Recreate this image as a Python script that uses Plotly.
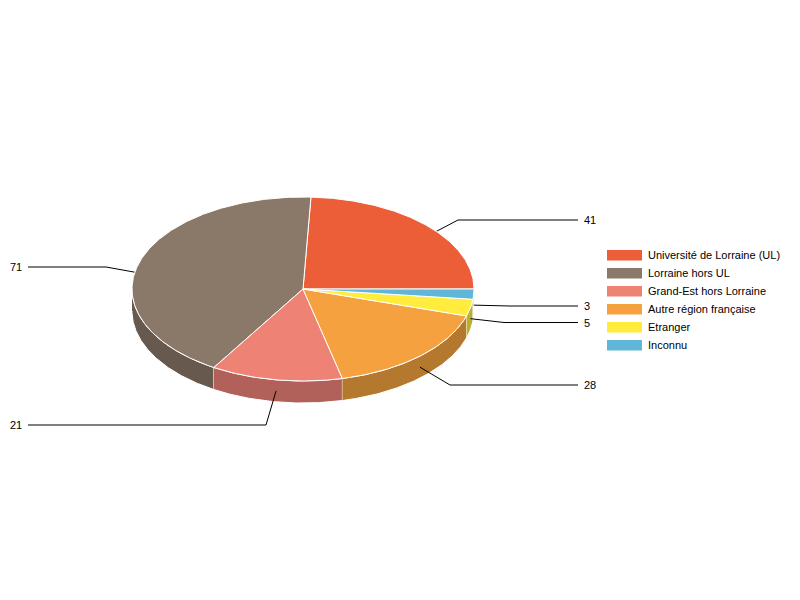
import numpy as np
import plotly.graph_objects as go

categories = ["Université de Lorraine (UL)", "Lorraine hors UL", "Grand-Est hors Lorraine",
              "Autre région française", "Etranger", "Inconnu"]
values = [41, 71, 21, 28, 5, 3]
colors = ["#EB5E37", "#8A7868", "#EE8375", "#F5A13F", "#FFEC3D", "#5FB6D6"]
wall_colors = ["#B04629", "#67594E", "#B16159", "#B5782F", "#BDAF2D", "#478AA1"]

# where each value label sits
label_y = [220, 267, 425, 385, 322.5, 306]
elbow_x = [458, 106, 266, 450, 504, 510]

FONT = "Liberation Sans, Arial, sans-serif"
CX, CY, RX, RY, DEPTH = 303, 289, 171, 92, 22


def arc(a0, a1, drop=0):
    t = np.radians(np.linspace(a0, a1, max(int(abs(a1 - a0)) * 2, 2)))
    return CX + RX * np.cos(t), CY - RY * np.sin(t) + drop


fig = go.Figure()
share = np.array(values) / sum(values) * 360
ends = np.cumsum(share)
starts = ends - share

# walls, only the part of each slice that faces the viewer
for cat, a0, a1, col in zip(categories, starts, ends, wall_colors):
    lo, hi = max(a0, 180), min(a1, 360)
    if hi <= lo:
        continue
    x1, y1 = arc(lo, hi)
    x2, y2 = arc(hi, lo, DEPTH)
    fig.add_trace(go.Scatter(x=np.r_[x1, x2], y=np.r_[y1, y2], mode="lines", fill="toself",
                             fillcolor=col, line=dict(color="white", width=1),
                             hoverinfo="skip", showlegend=False))

# leader lines go between the walls and the top
for val, a0, a1, ly, ex in zip(values, starts, ends, label_y, elbow_x):
    mid = np.radians((a0 + a1) / 2)
    sx = CX + RX * np.cos(mid)
    sy = CY - RY * np.sin(mid) + DEPTH / 2
    right = np.cos(mid) > 0
    fig.add_trace(go.Scatter(x=[sx, ex, 578 if right else 28], y=[sy, ly, ly], mode="lines",
                             line=dict(color="black", width=1), hoverinfo="skip", showlegend=False))
    fig.add_annotation(x=582 if right else 8, y=ly, text=str(val), showarrow=False,
                       xanchor="left", yanchor="middle", font=dict(family=FONT, size=11, color="black"))

# top of the pie
for cat, val, a0, a1, col in zip(categories, values, starts, ends, colors):
    x, y = arc(a0, a1)
    fig.add_trace(go.Scatter(x=np.r_[CX, x, CX], y=np.r_[CY, y, CY], mode="lines", fill="toself",
                             fillcolor=col, line=dict(color="white", width=1), name=cat,
                             text=f"{cat}: {val}", hoverinfo="text", showlegend=False))

# legend
for i, (cat, col) in enumerate(zip(categories, colors)):
    yc = 255 + i * 18
    fig.add_shape(type="rect", x0=607, x1=642, y0=yc - 5, y1=yc + 5.5, fillcolor=col, line_width=0)
    fig.add_annotation(x=646, y=yc, text=cat, showarrow=False, xanchor="left", yanchor="middle",
                       font=dict(family=FONT, size=11, color="black"))

fig.update_xaxes(range=[0, 800], visible=False, fixedrange=True)
fig.update_yaxes(range=[600, 0], visible=False, fixedrange=True)
fig.update_layout(width=800, height=600, margin=dict(l=0, r=0, t=0, b=0),
                  paper_bgcolor="white", plot_bgcolor="white", showlegend=False)
fig.write_html("out.html", config={"displayModeBar": False}, post_script="document.body.style.margin='0';")
